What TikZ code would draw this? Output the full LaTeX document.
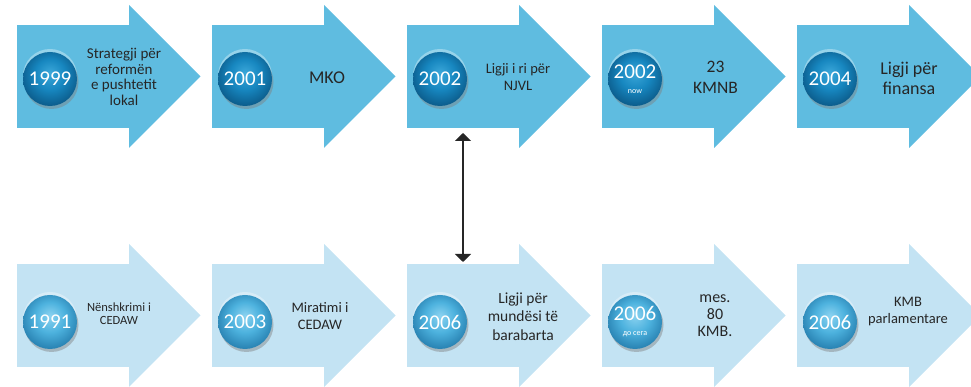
\documentclass[tikz,border=0pt]{standalone}
\usepackage{fontspec}
\setmainfont{Carlito}
\usetikzlibrary{positioning,arrows.meta,shadows}

\definecolor{topblue}{HTML}{5FBCE0}
\definecolor{lowblue}{HTML}{C3E3F3}
\definecolor{inkgray}{HTML}{262626}
\definecolor{tbhi}{HTML}{3BA7D9}
\definecolor{tbmid}{HTML}{1787C0}
\definecolor{tbrim}{HTML}{0C5E8E}
\definecolor{lbhi}{HTML}{8AD2F0}
\definecolor{lbmid}{HTML}{4DB2DE}
\definecolor{lbrim}{HTML}{2A84B4}

\pgfdeclareradialshading{topglass}{\pgfpoint{0bp}{6bp}}{%
  color(0bp)=(tbhi); color(14bp)=(tbmid); color(27bp)=(tbrim); color(50bp)=(tbrim)}
\pgfdeclareradialshading{lowglass}{\pgfpoint{0bp}{6bp}}{%
  color(0bp)=(lbhi); color(14bp)=(lbmid); color(27bp)=(lbrim); color(50bp)=(lbrim)}

\newcommand{\fs}[2]{\fontsize{#1}{#2}\selectfont}

\tikzset{
  body/.style={rectangle, draw=none, inner sep=0pt, outer sep=0pt,
    minimum width=112pt, minimum height=103pt},
  topbody/.style={body, fill=topblue},
  lowbody/.style={body, fill=lowblue},
  ball/.style={circle, minimum size=54pt, inner sep=0pt, text=white,
    align=center, font=\fs{21}{21},
    general shadow={fill=white, opacity=0.35, shadow yshift=3pt},
    drop shadow={opacity=0.45, shadow xshift=1.5pt, shadow yshift=-3pt}},
  topball/.style={ball, shading=topglass},
  lowball/.style={ball, shading=lowglass},
  lbl/.style={align=center, text=inkgray, inner sep=0pt},
  dbl/.style={{Triangle[width=16pt,length=8pt]}-{Triangle[width=16pt,length=8pt]},
    line width=2.5pt, black!85},
}

\begin{document}
\begin{tikzpicture}[x=1pt,y=1pt]
  \useasboundingbox (0,0) rectangle (971,387);
  % top row
  \node[topbody] (a1) at (73,310.5) {};
  \node[topbody, right=83pt of a1] (a2) {};
  \node[topbody, right=83pt of a2] (a3) {};
  \node[topbody, right=83pt of a3] (a4) {};
  \node[topbody, right=83pt of a4] (a5) {};
  % bottom row
  \node[lowbody] (b1) at (73,71.5) {};
  \node[lowbody, right=83pt of b1] (b2) {};
  \node[lowbody, right=83pt of b2] (b3) {};
  \node[lowbody, right=83pt of b3] (b4) {};
  \node[lowbody, right=83pt of b4] (b5) {};
  % arrow heads
  \foreach \n/\c in {a1/topblue,a2/topblue,a3/topblue,a4/topblue,a5/topblue,
                     b1/lowblue,b2/lowblue,b3/lowblue,b4/lowblue,b5/lowblue}
    \fill[\c] ([yshift=20pt]\n.north east) -- ([xshift=71.5pt]\n.east)
      -- ([yshift=-20pt]\n.south east) -- cycle;

  % years
  \node[topball] (y1) at ([xshift=-23pt,yshift=-2.5pt]a1.center) {1999};
  \node[topball] (y2) at ([xshift=-23pt,yshift=-2.5pt]a2.center) {2001};
  \node[topball] (y3) at ([xshift=-23pt,yshift=-2.5pt]a3.center) {2002};
  \node[topball] (y4) at ([xshift=-23pt,yshift=-2.5pt]a4.center) {2002\\[-6pt]{\fs{8}{8}now}};
  \node[topball] (y5) at ([xshift=-23pt,yshift=-2.5pt]a5.center) {2004};
  \node[lowball] (z1) at ([xshift=-23pt,yshift=-6.5pt]b1.center) {1991};
  \node[lowball] (z2) at ([xshift=-23pt,yshift=-6.5pt]b2.center) {2003};
  \node[lowball] (z3) at ([xshift=-23pt,yshift=-6.5pt]b3.center) {2006};
  \node[lowball] (z4) at ([xshift=-23pt,yshift=-6.5pt]b4.center) {2006\\[-6pt]{\fs{8}{8}до сега}};
  \node[lowball] (z5) at ([xshift=-23pt,yshift=-6.5pt]b5.center) {2006};

  % texts
  \node[lbl, font=\fs{15}{15.5}] (l1) at ([xshift=51pt,yshift=-0.5pt]a1.center)
    {Strategji për\\reformën\\e pushtetit\\lokal};
  \node[lbl, font=\fs{18}{20}] (l2) at ([xshift=59pt,yshift=-1.5pt]a2.center) {MKO};
  \node[lbl, font=\fs{14.5}{17}] (l3) at ([xshift=55pt,yshift=-0.5pt]a3.center)
    {Ligji i ri për\\NJVL};
  \node[lbl, font=\fs{17.5}{21}] (l4) at ([xshift=57.5pt,yshift=-1pt]a4.center)
    {23\\KMNB};
  \node[lbl, font=\fs{18}{20}] (l5) at ([xshift=56pt,yshift=-1.5pt]a5.center)
    {Ligji për\\finansa};
  \node[lbl, font=\fs{12.5}{13.5}] (m1) at ([xshift=46pt,yshift=2pt]b1.center)
    {Nënshkrimi i\\CEDAW};
  \node[lbl, font=\fs{14.5}{17.7}] (m2) at ([xshift=52pt,yshift=-0.5pt]b2.center)
    {Miratimi i\\CEDAW};
  \node[lbl, font=\fs{15.5}{18.5}] (m3) at ([xshift=60pt,yshift=-1pt]b3.center)
    {Ligji për\\mundësi të\\barabarta};
  \node[lbl, font=\fs{16}{17}] (m4) at ([xshift=57pt,yshift=-0.5pt]b4.center)
    {mes.\\80\\KMB.};
  \node[lbl, font=\fs{14.5}{17}] (m5) at ([xshift=55pt,yshift=4pt]b5.center)
    {KMB\\parlamentare};

  % link between 2002 and 2006
  \draw[dbl, shorten <=5pt, shorten >=2pt] (a3.south) -- (b3.north);
\end{tikzpicture}
\end{document}
